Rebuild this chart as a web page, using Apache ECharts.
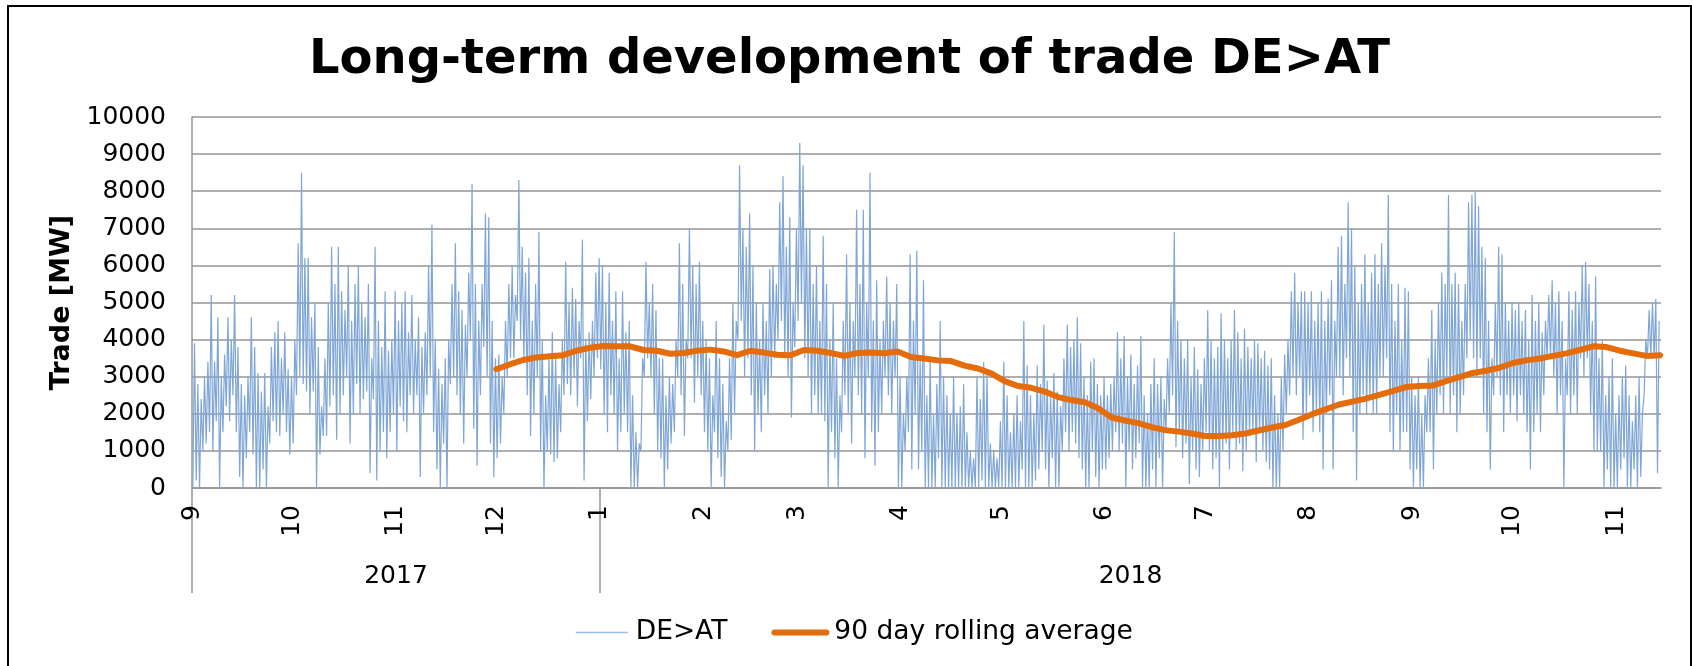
<!DOCTYPE html>
<html lang="en">
<head>
    <meta charset="UTF-8">
    <title>Long-term development of trade DE>AT</title>
    <script src="https://cdn.jsdelivr.net/npm/echarts@6/dist/echarts.min.js"></script>
</head>
<body style="margin:0;overflow:hidden;background:#fff">
<div style="position:absolute;left:7px;top:5px;width:1681px;height:700px;border:2px solid #000">
    <div id="container" style="width:1681px;height:700px"></div>
</div>
<script type="text/javascript">

// day 0 = 1 Sep 2017, one high and one low value per day (MW)
var dayHigh = [
    // Sep 2017
    3900,2800,2400,3000,3400,5200,3400,4600,3000,3600,4600,4000,5200,3800,2800,2500,3000,4600,3800,3100,2600,3100,2200,3800,4200,4500,3500,4200,3200,3000,
    // Oct 2017
    4000,6600,8500,6200,6200,4600,5000,3800,2200,3500,5000,6500,5500,6500,5300,4800,6000,4500,5500,6000,5000,4600,5500,3500,6500,4500,3800,5300,3700,4000,5300,
    // Nov 2017
    4500,5000,5300,4200,5200,4000,4600,3800,4200,6000,7100,4000,3200,2800,3500,4000,5500,6600,5300,4800,4400,5800,8200,5500,4500,5500,7400,7300,4500,3500,
    // Dec 2017
    3600,3000,4500,5500,6000,5200,8300,6500,5800,6200,4500,5500,6900,4000,2500,3500,4200,3500,2800,4000,6100,5000,5400,5100,4500,6700,4000,4200,4500,5800,6200,
    // Jan 2018
    6000,5000,5800,4500,5300,3500,5300,4200,4500,2500,1500,1200,3500,6100,5000,5500,4800,3500,3500,2500,3000,2800,4000,6600,5500,4000,7000,6000,5500,6100,4500,
    // Feb 2018
    4000,3500,2500,4500,3500,2800,1800,3500,5000,4500,8700,7000,6500,7400,6000,5000,4000,5000,4500,5900,6000,5500,7700,8400,6500,7300,5000,7000,
    // Mar 2018
    9300,8700,7000,7000,5500,6000,4500,6800,5500,4000,5000,3500,2500,4500,6300,5000,4500,7500,5500,7500,5000,8500,4500,5600,4000,4500,5700,5000,4500,5500,3000,
    // Apr 2018
    2000,3000,6300,4500,6400,3500,5600,2500,3500,2000,2800,4500,3000,2500,2000,3000,2000,2200,2800,1500,1000,800,3000,2400,3400,3100,1200,1000,800,1800,
    // May 2018
    3400,2500,1500,2000,2500,1800,4500,3300,2500,2000,3300,2800,4400,2900,2500,3100,2600,2200,3500,4400,3800,4000,4600,3900,3000,2500,3400,3500,2800,2500,3000,
    // Jun 2018
    2500,2800,3000,4200,3500,4100,3000,3600,2800,3300,4100,2500,2000,2800,3500,2800,3000,2400,3500,5000,6900,4500,4000,3500,4000,3000,3800,3200,2800,3500,
    // Jul 2018
    4800,4000,3500,3800,4700,4000,3500,4000,4800,4200,3500,4300,3800,3500,4000,3900,3500,3700,3300,3500,2500,2000,3000,3600,4000,5300,5800,5000,5300,5300,5000,
    // Aug 2018
    5300,4500,5000,5300,4500,5100,5600,4500,6500,6800,5500,7700,7000,6000,5000,5500,6300,5000,5800,6300,5500,6600,6000,7900,5500,4500,5500,4000,5400,5300,3000,
    // Sep 2018
    2500,3000,2000,2500,3500,4800,4000,5000,5800,5500,7900,5500,5800,5500,4500,5500,7700,7900,8000,7600,6500,6200,4500,3500,5000,6500,6300,5000,4500,5000,
    // Oct 2018
    4800,5000,4500,4800,4000,5200,4500,5000,4200,4500,5200,5600,5000,5300,4500,3500,5300,4800,5300,5000,6000,6100,5500,4500,5700,3500,4000,2500,3000,3500,2000,
    // Nov 2018
    2500,3000,3300,2500,1800,2500,3000,2000,4000,4800,5000,5100,4500
];

var dayLow = [
    // Sep 2017
    0,200,0,1000,1200,1500,1000,1800,0,1500,2200,1800,2500,1500,300,0,800,1500,900,0,0,500,0,1200,1800,1500,1400,2000,1500,900,
    // Oct 2017
    1200,2500,3000,2800,2600,2000,2600,0,900,1400,1400,2200,2500,1300,2000,2500,3000,1200,2000,2800,2000,2400,2600,400,2400,200,1000,1500,800,1500,2000,
    // Nov 2017
    1000,2200,1800,1500,2500,2000,2500,300,2000,2500,3000,1500,500,0,1200,0,2800,3000,2500,2000,1200,3000,4000,1600,600,2500,3800,3000,1200,300,
    // Dec 2017
    800,1200,2000,3000,3500,3500,4500,4000,3500,2500,1400,2000,3000,1000,0,1000,900,700,800,1500,2500,2800,2500,3000,2200,3500,200,1800,2400,3000,3500,
    // Jan 2018
    3200,2000,1500,2500,2000,1000,1500,2000,1500,0,0,0,1000,3000,3500,3000,2000,1000,800,0,500,1200,1500,3000,2500,1400,3500,3500,2300,3000,2500,
    // Feb 2018
    1500,1000,0,1500,800,300,0,1000,1300,2000,4000,4500,3000,3500,2500,1000,2000,1500,2500,2000,3000,3500,4000,4500,3500,3000,1900,3800,
    // Mar 2018
    4500,5000,3500,3000,2000,2500,2000,2000,1800,0,1500,800,0,1500,2500,2000,1200,3000,2500,2000,800,3000,1500,600,1500,2000,3000,2500,2000,3000,0,
    // Apr 2018
    0,1000,1500,500,2000,500,1000,0,0,0,0,800,0,0,0,0,0,0,0,0,0,0,0,0,200,0,0,0,0,0,
    // May 2018
    0,0,0,0,0,0,500,0,0,0,200,500,1000,500,0,800,0,0,1000,1500,1000,1500,1200,800,500,0,0,1000,300,0,500,
    // Jun 2018
    500,800,1000,1500,1000,1200,0,1000,500,800,1200,0,0,0,500,0,800,0,1500,2000,2500,1100,1500,800,1200,100,1000,500,300,1000,
    // Jul 2018
    1500,1000,500,800,0,1000,1200,500,1500,1000,1200,450,1000,1500,1500,700,1500,1000,700,500,0,0,0,1000,2000,2500,3000,2500,3000,1300,2000,
    // Aug 2018
    2500,1500,2000,1500,500,2000,2500,500,3000,3000,2500,3500,3000,1500,200,2000,2500,2000,2500,2000,2000,3000,3000,3500,1500,1000,2000,1000,1500,1500,500,
    // Sep 2018
    0,500,0,0,1500,1500,500,2000,2500,2000,3000,2000,2500,1500,2000,2500,3500,4000,3500,3000,3500,2000,1500,500,2500,3000,2500,1500,2500,2000,
    // Oct 2018
    2500,1800,2500,2000,1500,500,1500,2000,1500,2500,3500,3500,3000,2000,2500,0,2500,2000,2500,2000,3500,3000,3500,2000,1000,1000,1000,0,500,0,0,
    // Nov 2018
    0,500,800,0,0,500,0,300,2500,3500,3500,3500,400
];

// 90 day rolling average, one value every 4 days from 1 Dec 2017 (day 91)
var rollStart = 91;
var rollStep = 4;
var rolling90 = [
    3200,3330,3450,3520,3550,3580,3700,3780,3830,3820,
    3820,3720,3700,3620,3640,3700,3730,3680,3580,3700,
    3650,3590,3580,3720,3700,3640,3560,3640,3650,3630,
    3680,3530,3490,3440,3420,3300,3220,3090,2880,2750,
    2700,2600,2450,2370,2310,2150,1900,1820,1750,1640,
    1560,1520,1470,1400,1400,1420,1470,1550,1630,1700,
    1840,1990,2120,2250,2330,2410,2510,2610,2720,2750,
    2760,2880,2990,3100,3160,3240,3370,3440,3490,3560,
    3630,3720,3820,3800,3700,3630,3560,3580
];

var monthStarts = [0, 30, 61, 91, 122, 153, 181, 212, 242, 273, 303, 334, 365, 395, 426];
var monthLabels = ['9', '10', '11', '12', '1', '2', '3', '4', '5', '6', '7', '8', '9', '10', '11'];
var yearStarts = [0, 122];
var yearMiddles = [61, 280.65];
var yearLabels = ['2017', '2018'];
var lastDay = 439.3;

var dom = document.getElementById("container");
var myChart = echarts.init(dom);

var tradeData = [];
for (var i = 0; i < dayHigh.length; i++) {
    tradeData.push([i + 0.25, dayLow[i]]);
    tradeData.push([i + 0.75, dayHigh[i]]);
}
var rollData = [];
for (var j = 0; j < rolling90.length; j++) {
    rollData.push([rollStart + j * rollStep, rolling90[j]]);
}

var font = 'DejaVu Sans';
var gridGrey = '#959595';
var blue = '#7FA6D6';
var orange = '#E46C0A';

var option = {
    animation: false,
    backgroundColor: '#fff',
    title: {
        text: 'Long-term development of trade DE>AT',
        left: 'center',
        top: 30,
        padding: 0,
        textStyle: {
            fontFamily: font,
            fontSize: 48,
            fontWeight: 'bold',
            color: '#000'
        }
    },
    legend: {
        left: 561,
        top: 607,
        itemWidth: 52,
        itemHeight: 14,
        itemGap: 44,
        itemStyle: {opacity: 0},
        textStyle: {
            fontFamily: font,
            fontSize: 26.5,
            color: '#000',
            padding: [0, 0, 0, 3]
        },
        data: [
            {name: 'DE>AT', lineStyle: {width: 1.5, color: '#9CBCE2'}},
            {name: '90 day rolling average', lineStyle: {width: 6, color: orange, cap: 'round'}}
        ]
    },
    grid: {
        left: 183,
        top: 110,
        width: 1469,
        height: 371,
        outerBoundsMode: 'none'
    },
    xAxis: [
        {
            type: 'value',
            min: 0,
            max: lastDay,
            axisLine: {show: true, onZero: false, lineStyle: {color: gridGrey, width: 1.5}},
            axisTick: {show: false},
            splitLine: {show: false},
            axisLabel: {
                customValues: monthStarts,
                rotate: 90,
                margin: 17,
                fontFamily: font,
                fontSize: 25,
                color: '#000',
                formatter: function (value) {
                    var k = monthStarts.indexOf(value);
                    return k < 0 ? '' : monthLabels[k];
                }
            }
        },
        {
            type: 'value',
            min: 0,
            max: lastDay,
            position: 'bottom',
            axisLine: {show: false},
            splitLine: {show: false},
            axisTick: {
                show: true,
                customValues: yearStarts,
                length: 105,
                lineStyle: {color: gridGrey, width: 1.5}
            },
            axisLabel: {
                customValues: yearMiddles,
                margin: 76,
                fontFamily: font,
                fontSize: 25,
                color: '#000',
                formatter: function (value) {
                    var k = yearMiddles.indexOf(value);
                    return k < 0 ? '' : yearLabels[k];
                }
            }
        }
    ],
    yAxis: {
        type: 'value',
        min: 0,
        max: 10000,
        interval: 1000,
        name: 'Trade [MW]',
        nameLocation: 'middle',
        nameGap: 107,
        nameTextStyle: {
            fontFamily: font,
            fontSize: 27,
            fontWeight: 'bold',
            color: '#000'
        },
        axisLine: {show: true, lineStyle: {color: gridGrey, width: 1.5}},
        axisTick: {show: false},
        axisLabel: {
            margin: 26,
            fontFamily: font,
            fontSize: 25,
            color: '#000',
            formatter: function (value) {
                return String(value);
            }
        },
        splitLine: {lineStyle: {color: gridGrey, width: 1.5}}
    },
    series: [
        {
            name: 'DE>AT',
            type: 'line',
            xAxisIndex: 0,
            data: tradeData,
            symbol: 'none',
            sampling: null,
            color: blue,
            lineStyle: {color: blue, width: 1.2}
        },
        {
            name: '90 day rolling average',
            type: 'line',
            xAxisIndex: 0,
            data: rollData,
            symbol: 'none',
            color: orange,
            lineStyle: {color: orange, width: 6, cap: 'round', join: 'round'}
        }
    ]
};

myChart.setOption(option);

</script>
</body>
</html>
